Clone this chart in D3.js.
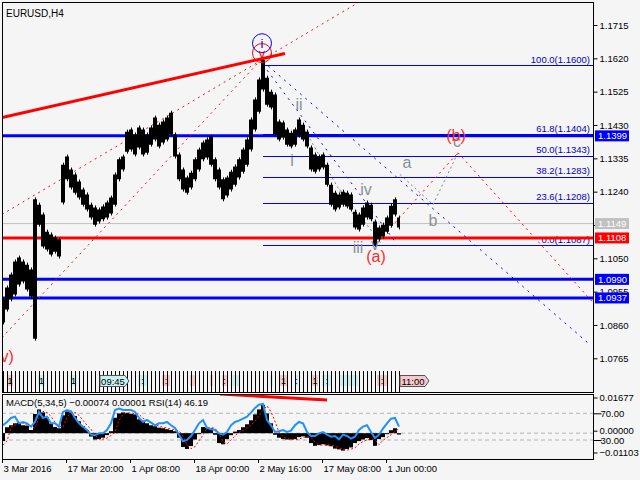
<!DOCTYPE html>
<html>
<head>
<meta charset="utf-8">
<script src="https://cdn.jsdelivr.net/npm/d3@7"></script>
<style>
  body { margin: 0; background: #f5f5f5; }
  text { font-family: "Liberation Sans", Arial, sans-serif; }
</style>
</head>
<body>
<div id="wrapper"></div>
<script>

// 1. Data (one value per 4px bar)

const highs = [
  1.0933, 1.0967, 1.1004, 1.1041, 1.1052, 1.1041, 1.1032, 1.1018, 1.1218, 1.1203,
  1.1175, 1.1126, 1.1118, 1.1109, 1.1104, 1.1317, 1.1340, 1.1303, 1.1289, 1.1269,
  1.1246, 1.1232, 1.1203, 1.1195, 1.1189, 1.1198, 1.1209, 1.1223, 1.1289, 1.1332,
  1.1340, 1.1411, 1.1417, 1.1403, 1.1423, 1.1417, 1.1403, 1.1423, 1.1451, 1.1431,
  1.1440, 1.1451, 1.1465, 1.1403, 1.1346, 1.1303, 1.1280, 1.1294, 1.1332, 1.1360,
  1.1380, 1.1389, 1.1397, 1.1332, 1.1303, 1.1275, 1.1280, 1.1297, 1.1312, 1.1332,
  1.1360, 1.1389, 1.1446, 1.1503, 1.1560, 1.1616, 1.1565, 1.1525, 1.1517, 1.1440,
  1.1437, 1.1417, 1.1408, 1.1417, 1.1446, 1.1431, 1.1411, 1.1366, 1.1346, 1.1340,
  1.1346, 1.1317, 1.1260, 1.1237, 1.1232, 1.1240, 1.1237, 1.1232, 1.1183, 1.1175,
  1.1195, 1.1209, 1.1203, 1.1155, 1.1138, 1.1146, 1.1166, 1.1200, 1.1218, 1.1166
]
const lows = [
  1.0867, 1.0904, 1.0933, 1.0947, 1.0975, 1.0984, 1.0961, 1.0941, 1.0821, 1.1146,
  1.1084, 1.1075, 1.1061, 1.1069, 1.1055, 1.1209, 1.1275, 1.1252, 1.1237, 1.1223,
  1.1203, 1.1189, 1.1166, 1.1146, 1.1155, 1.1161, 1.1166, 1.1178, 1.1203, 1.1275,
  1.1303, 1.1354, 1.1360, 1.1346, 1.1366, 1.1346, 1.1351, 1.1374, 1.1389, 1.1369,
  1.1380, 1.1389, 1.1403, 1.1340, 1.1275, 1.1246, 1.1237, 1.1252, 1.1275, 1.1303,
  1.1332, 1.1337, 1.1317, 1.1275, 1.1252, 1.1218, 1.1229, 1.1246, 1.1260, 1.1280,
  1.1297, 1.1317, 1.1360, 1.1417, 1.1468, 1.1531, 1.1488, 1.1480, 1.1403, 1.1389,
  1.1394, 1.1374, 1.1369, 1.1374, 1.1400, 1.1389, 1.1369, 1.1303, 1.1297, 1.1303,
  1.1309, 1.1260, 1.1203, 1.1189, 1.1195, 1.1203, 1.1198, 1.1189, 1.1138, 1.1132,
  1.1146, 1.1166, 1.1161, 1.1088, 1.1104, 1.1112, 1.1126, 1.1143, 1.1175, 1.1138
]
const macdValues = [
  -0.0040, 0.0030, 0.0040, 0.0050, 0.0054, 0.0040, 0.0038, 0.0016, 0.0097, 0.0120,
  0.0105, 0.0080, 0.0049, 0.0031, 0.0025, 0.0090, 0.0110, 0.0105, 0.0087, 0.0060,
  0.0035, 0.0016, -0.0017, -0.0032, -0.0030, -0.0023, -0.0010, 0.0010, 0.0078, 0.0100,
  0.0105, 0.0103, 0.0097, 0.0095, 0.0070, 0.0063, 0.0050, 0.0040, 0.0035, 0.0028,
  0.0025, 0.0020, 0.0016, 0.0010, -0.0023, -0.0070, -0.0080, -0.0065, -0.0032, -0.0005,
  0.0031, 0.0028, 0.0025, -0.0008, -0.0050, -0.0056, -0.0030, -0.0010, 0.0008, 0.0016,
  0.0030, 0.0045, 0.0065, 0.0095, 0.0120, 0.0143, 0.0100, 0.0050, -0.0008, -0.0023,
  -0.0030, -0.0032, -0.0032, -0.0030, -0.0020, -0.0016, -0.0023, -0.0050, -0.0064, -0.0060,
  -0.0056, -0.0062, -0.0066, -0.0078, -0.0082, -0.0088, -0.0080, -0.0072, -0.0050, -0.0040,
  -0.0032, -0.0025, -0.0035, -0.0064, -0.0030, -0.0020, -0.0005, 0.0015, 0.0025, -0.0007
]
const signalValues = [
  -0.0060, -0.0040, 0.0030, 0.0040, 0.0050, 0.0052, 0.0040, 0.0035, 0.0025, 0.0080,
  0.0110, 0.0105, 0.0085, 0.0055, 0.0035, 0.0030, 0.0080, 0.0105, 0.0105, 0.0090,
  0.0065, 0.0040, 0.0020, -0.0010, -0.0030, -0.0030, -0.0025, -0.0012, 0.0005, 0.0065,
  0.0095, 0.0102, 0.0102, 0.0098, 0.0095, 0.0075, 0.0065, 0.0052, 0.0042, 0.0036,
  0.0030, 0.0026, 0.0021, 0.0017, 0.0012, -0.0015, -0.0060, -0.0078, -0.0068, -0.0038,
  -0.0010, 0.0025, 0.0028, 0.0025, -0.0002, -0.0042, -0.0055, -0.0035, -0.0014, 0.0004,
  0.0014, 0.0027, 0.0042, 0.0060, 0.0088, 0.0115, 0.0138, 0.0108, 0.0060, 0.0005,
  -0.0018, -0.0028, -0.0031, -0.0032, -0.0030, -0.0022, -0.0017, -0.0021, -0.0045, -0.0060,
  -0.0060, -0.0057, -0.0061, -0.0065, -0.0075, -0.0080, -0.0086, -0.0081, -0.0074, -0.0054,
  -0.0042, -0.0034, -0.0027, -0.0033, -0.0058, -0.0036, -0.0022, -0.0008, 0.0010, 0.0022
]
const rsiValues = [
  52, 57, 63, 65, 55, 57, 55, 50, 57, 72,
  63, 65, 55, 55, 50, 72, 75, 73, 63, 55,
  50, 45, 38, 37, 40, 40, 45, 55, 75, 77,
  75, 75, 75, 72, 63, 57, 60, 56, 52, 55,
  55, 57, 52, 48, 38, 28, 30, 36, 45, 55,
  60, 48, 46, 45, 40, 38, 42, 52, 57, 59,
  62, 65, 71, 78, 83, 84, 60, 52, 42, 43,
  45, 42, 44, 52, 57, 55, 42, 36, 36, 40,
  42, 38, 35, 36, 31, 38, 36, 32, 35, 45,
  50, 52, 42, 33, 38, 47, 55, 62, 63, 50
]

const priceTicks = [1.1715, 1.1620, 1.1525, 1.1430, 1.1335, 1.1240, 1.1145, 1.1050, 1.0955, 1.0860, 1.0765]
const hiddenTickLabels = [1.1145]
const timeTickIndex = [0, 16, 32, 48, 64, 80, 96]
const timeTickLabels = ["3 Mar 2016", "17 Mar 20:00", "1 Apr 08:00", "18 Apr 00:00", "2 May 16:00", "17 May 08:00", "1 Jun 00:00"]

const fibLevels = [100.0, 61.8, 50.0, 38.2, 23.6, 0.0]
const fibPrices = [1.1600, 1.1404, 1.1343, 1.1283, 1.1208, 1.1087]
const fibStartIndex = 65

const blueLevels = [1.1399, 1.0990, 1.0937]
const redLevels = [1.1108]
const lastPrice = 1.1149

// trend lines as [index0, price0, index1, price1]
const redSolidLines = [[-0.25, 1.1451, 70.5, 1.1634]]
const darkRedDotted = [[-0.25, 1.1175, 89.25, 1.1782], [-0.25, 1.0824, 65, 1.1622]]
const redDotted = [[93, 1.1088, 113.75, 1.1351], [113.75, 1.1351, 147.5, 1.0924]]
const blueDotted = [[65, 1.1611, 146.75, 1.0804], [65, 1.1602, 98, 1.1098]]
const greyDotted = [
  [74.25, 1.1440, 88, 1.1166], [84.25, 1.1246, 94.75, 1.1089],
  [99.25, 1.1289, 107.5, 1.1203], [107.5, 1.1203, 113.75, 1.1351]
]

// wave labels: [text, index, price]
const greyWaves = [["ii", 74, 1.1488], ["i", 72.25, 1.1329], ["iv", 90.75, 1.1246], ["iii", 88.75, 1.1081],
  ["v", 93, 1.1089], ["a", 101, 1.1323], ["b", 107.5, 1.1158], ["c", 113.5, 1.1384]]
const redWaves = [["(a)", 93.25, 1.1055], ["(b)", 113.25, 1.1400], ["(v)", 0.4, 1.0770]]
const circledWaves = [["i", 64.75, 1.1663, "#0000ff"], ["v", 64.75, 1.1635, "#ff0000"]]

// indicator pane
const macdAxis = [0.01677, 0.00000, -0.01103]
const rsiAxis = [70, 30]
const macdDivergence = [[54.25, 0.0198, 81, 0.0168]]

// session strip: [startIndex, endIndex, kind, text]
const stripBoxes = [
  [1, 2.5, "p", "1"], [8.75, 10.5, "c", "1"], [16.75, 18.5, "c", "1"], [33.75, 36, "c", ":"],
  [39.75, 41.75, "p", ":"], [46.75, 48, "p", ""], [51.75, 52.5, "p", ""], [54.75, 56, "p", ":"],
  [57.25, 59.25, "c", ""], [66.75, 67.5, "c", ""], [69.25, 71, "p", "1"], [73, 73.75, "c", ":"],
  [77.25, 78.75, "p", "1"], [79.75, 82.25, "c", ":"], [84.25, 88.75, "c", ""], [93.5, 96, "p", ":"]
]
const stripFlags = [[24.25, "c", "09:45"], [99.25, "p", "11:00"]]

function drawChart() {

  // 2. Dimensions

  const dims = {
    width: 640, height: 480,
    left: 2, right: 593,
    mainTop: 2, mainBottom: 392,
    subTop: 394, subBottom: 459,
  }
  const fontSize = 9.5

  // 3. Canvas

  const svg = d3.select("#wrapper").append("svg")
      .attr("width", dims.width)
      .attr("height", dims.height)
      .style("background", "#f5f5f5")

  const defs = svg.append("defs")
  defs.append("clipPath").attr("id", "main-clip")
    .append("rect")
      .attr("x", dims.left).attr("y", dims.mainTop)
      .attr("width", dims.right - dims.left).attr("height", dims.mainBottom - dims.mainTop)
  defs.append("clipPath").attr("id", "sub-clip")
    .append("rect")
      .attr("x", dims.left).attr("y", dims.subTop)
      .attr("width", dims.right - dims.left).attr("height", dims.subBottom - dims.subTop)

  // 4. Scales

  const xScale = d3.scaleLinear().domain([0, 147.5]).range([3, 593])
  const yScale = d3.scaleLinear().domain([1.0765, 1.1715]).range([358.3, 25])
  const macdScale = d3.scaleLinear().domain([-0.01103, 0.01677]).range([455, 400])
  const rsiScale = d3.scaleLinear().domain([30, 70]).range([440, 413.3])

  const main = svg.append("g").attr("clip-path", "url(#main-clip)")
  const sub = svg.append("g").attr("clip-path", "url(#sub-clip)")

  const drawSegments = (g, lines, color, width, dash, sy = yScale) => {
    g.selectAll(null).data(lines).enter().append("line")
        .attr("x1", d => xScale(d[0])).attr("y1", d => sy(d[1]))
        .attr("x2", d => xScale(d[2])).attr("y2", d => sy(d[3]))
        .attr("stroke", color)
        .attr("stroke-width", width)
        .attr("stroke-dasharray", dash)
  }

  // 5. Horizontal levels

  main.append("line")
      .attr("x1", dims.left).attr("x2", dims.right)
      .attr("y1", yScale(lastPrice)).attr("y2", yScale(lastPrice))
      .attr("stroke", "#c0c0c0")

  main.selectAll(".fib").data(fibPrices).enter().append("line")
      .attr("x1", xScale(fibStartIndex)).attr("x2", dims.right)
      .attr("y1", d => Math.round(yScale(d)) + 0.5).attr("y2", d => Math.round(yScale(d)) + 0.5)
      .attr("stroke", "#0000ff")
      .attr("shape-rendering", "crispEdges")

  main.selectAll(".fib-label").data(fibPrices).enter().append("text")
      .attr("x", 590).attr("y", d => yScale(d) - 2.5)
      .attr("text-anchor", "end")
      .attr("font-size", fontSize)
      .attr("fill", "#0000cc")
      .text((d, i) => `${fibLevels[i].toFixed(1)}(${d.toFixed(4)})`)

  main.selectAll(".blue-level").data(blueLevels).enter().append("line")
      .attr("x1", dims.left).attr("x2", dims.right)
      .attr("y1", d => yScale(d)).attr("y2", d => yScale(d))
      .attr("stroke", "#0000ff").attr("stroke-width", 3)

  main.selectAll(".red-level").data(redLevels).enter().append("line")
      .attr("x1", dims.left).attr("x2", dims.right)
      .attr("y1", d => yScale(d)).attr("y2", d => yScale(d))
      .attr("stroke", "#ff0000").attr("stroke-width", 3)

  // 6. Trend lines

  drawSegments(main, darkRedDotted, "#c02828", 1, "2,4")
  drawSegments(main, blueDotted, "#0000ff", 1, "2,5")
  drawSegments(main, greyDotted, "#808080", 1, "2,3")
  drawSegments(main, redDotted, "#ff0000", 1, "2,4")

  // 7. Price bars

  const band = d3.area()
      .curve(d3.curveStep)
      .x((d, i) => xScale(i))
      .y0((d, i) => yScale(lows[i]))
      .y1(d => yScale(d))
  main.append("path")
      .attr("d", band(highs))
      .attr("fill", "#000")

  main.selectAll(".bar").data(highs).enter().append("line")
      .attr("x1", (d, i) => xScale(i) + 0.5).attr("x2", (d, i) => xScale(i) + 0.5)
      .attr("y1", d => yScale(d) - 2).attr("y2", (d, i) => yScale(lows[i]) + 2)
      .attr("stroke", "#000").attr("stroke-width", 1)

  drawSegments(main, redSolidLines, "#ff0000", 3, null)

  // 8. Wave labels

  main.selectAll(".grey-wave").data(greyWaves).enter().append("text")
      .attr("x", d => xScale(d[1])).attr("y", d => yScale(d[2]))
      .attr("text-anchor", "middle").attr("dominant-baseline", "central")
      .attr("font-size", 16).attr("fill", "#8a9098")
      .text(d => d[0])

  main.selectAll(".red-wave").data(redWaves).enter().append("text")
      .attr("x", d => xScale(d[1])).attr("y", d => yScale(d[2]))
      .attr("text-anchor", "middle").attr("dominant-baseline", "central")
      .attr("font-size", 16).attr("fill", "#ff2a2a")
      .text(d => d[0])

  const circled = main.selectAll(".circled").data(circledWaves).enter().append("g")
  circled.append("circle")
      .attr("cx", d => xScale(d[1])).attr("cy", d => yScale(d[2]))
      .attr("r", 9.5).attr("fill", "none")
      .attr("stroke", d => d[3]).attr("stroke-width", 1)
  circled.append("text")
      .attr("x", d => xScale(d[1])).attr("y", d => yScale(d[2]))
      .attr("text-anchor", "middle").attr("dominant-baseline", "central")
      .attr("font-size", 13).attr("fill", d => d[3])
      .text(d => d[0])

  // 9. Session strip

  const stripColor = { c: "#c8f2f2", p: "#f4c8cc" }
  svg.selectAll(".strip-box").data(stripBoxes).enter().append("rect")
      .attr("x", d => xScale(d[0])).attr("y", 375)
      .attr("width", d => xScale(d[1]) - xScale(d[0])).attr("height", 11)
      .attr("fill", d => stripColor[d[2]])
  svg.selectAll(".strip-tick").data(highs).enter().append("line")
      .attr("x1", (d, i) => xScale(i) + 0.5).attr("x2", (d, i) => xScale(i) + 0.5)
      .attr("y1", 371).attr("y2", dims.mainBottom)
      .attr("stroke", "#000")
      .attr("shape-rendering", "crispEdges")
  svg.selectAll(".strip-text").data(stripBoxes).enter().append("text")
      .attr("x", d => (xScale(d[0]) + xScale(d[1])) / 2).attr("y", 384)
      .attr("text-anchor", "middle").attr("font-size", 9).attr("fill", "#000")
      .text(d => d[3])

  const flags = svg.selectAll(".flag").data(stripFlags).enter().append("g")
  flags.append("path")
      .attr("d", d => {
        const x0 = xScale(d[0])
        return `M${x0},375.5 H${x0 + 25} L${x0 + 29},381 L${x0 + 25},386.5 H${x0} Z`
      })
      .attr("fill", d => stripColor[d[1]])
      .attr("stroke", "#555")
  flags.append("text")
      .attr("x", d => xScale(d[0]) + 13).attr("y", 385)
      .attr("text-anchor", "middle").attr("font-size", 9.5).attr("fill", "#000")
      .text(d => d[2])

  // 10. Indicator pane

  sub.selectAll(".guide").data([70, 30]).enter().append("line")
      .attr("x1", dims.left).attr("x2", dims.right)
      .attr("y1", d => rsiScale(d)).attr("y2", d => rsiScale(d))
      .attr("stroke", "#b4b4b4").attr("stroke-dasharray", "4,3")
  sub.append("line")
      .attr("x1", dims.left).attr("x2", dims.right)
      .attr("y1", macdScale(0)).attr("y2", macdScale(0))
      .attr("stroke", "#b4b4b4").attr("stroke-dasharray", "4,3")

  sub.selectAll(".hist").data(macdValues).enter().append("rect")
      .attr("x", (d, i) => xScale(i) - 2)
      .attr("width", 4)
      .attr("y", d => Math.min(macdScale(d), macdScale(0)))
      .attr("height", d => Math.abs(macdScale(d) - macdScale(0)))
      .attr("fill", "#000")

  sub.append("path")
      .attr("d", d3.line().x((d, i) => xScale(i)).y(d => macdScale(d))(signalValues))
      .attr("fill", "none").attr("stroke", "#ff0000")
      .attr("stroke-width", 1).attr("stroke-dasharray", "2,2")

  sub.append("path")
      .attr("d", d3.line().x((d, i) => xScale(i)).y(d => rsiScale(d))(rsiValues))
      .attr("fill", "none").attr("stroke", "#1e90ff")
      .attr("stroke-width", 2)

  drawSegments(sub, macdDivergence, "#ff0000", 3, null, macdScale)

  svg.append("text")
      .attr("x", 6).attr("y", 406)
      .attr("font-size", fontSize).attr("fill", "#000")
      .text(`MACD(5,34,5) ${d3.format(".5f")(-0.00074)} ${d3.format(".5f")(0.00001)} RSI(14) ${d3.format(".2f")(46.19)}`)

  // 11. Frames and axes

  svg.append("rect")
      .attr("x", dims.left + 0.5).attr("y", dims.mainTop + 0.5)
      .attr("width", dims.right - dims.left).attr("height", dims.mainBottom - dims.mainTop)
      .attr("fill", "none").attr("stroke", "#000")
  svg.append("rect")
      .attr("x", dims.left + 0.5).attr("y", dims.subTop + 0.5)
      .attr("width", dims.right - dims.left).attr("height", dims.subBottom - dims.subTop)
      .attr("fill", "none").attr("stroke", "#000")

  const priceAxis = d3.axisRight(yScale)
      .tickValues(priceTicks)
      .tickFormat(d => hiddenTickLabels.includes(d) ? "" : d3.format(".4f")(d))
      .tickSize(4).tickPadding(2)
  svg.append("g")
      .attr("transform", `translate(${dims.right + 0.5},0)`)
      .call(priceAxis)
      .call(g => g.select(".domain").remove())
      .call(g => g.selectAll("text").attr("font-size", fontSize).attr("font-family", null).attr("fill", "#000"))
      .call(g => g.selectAll("line").attr("stroke", "#000"))

  const macdAxisG = svg.append("g")
      .attr("transform", `translate(${dims.right + 0.5},0)`)
      .call(d3.axisRight(macdScale).tickValues(macdAxis).tickFormat(d3.format(".5f")).tickSize(4).tickPadding(2))
  const rsiAxisG = svg.append("g")
      .attr("transform", `translate(${dims.right + 0.5},0)`)
      .call(d3.axisRight(rsiScale).tickValues(rsiAxis).tickFormat(d3.format(".2f")).tickSize(8).tickPadding(-1))
  ;[macdAxisG, rsiAxisG].forEach(g => {
    g.select(".domain").remove()
    g.selectAll("text").attr("font-size", fontSize).attr("font-family", null).attr("fill", "#000")
    g.selectAll("line").attr("stroke", "#000")
  })
  macdAxisG.selectAll(".tick").attr("transform", d => `translate(0,${macdScale(d) - 2})`)

  // price tags on the right axis
  const tags = [
    ...blueLevels.map(v => [v, "#0000ff"]),
    [lastPrice, "#c0c0c0"],
    ...redLevels.map(v => [v, "#ff0000"]),
  ]
  const tag = svg.selectAll(".tag").data(tags).enter().append("g")
      .attr("transform", d => `translate(${dims.right + 2},${yScale(d[0])})`)
  tag.append("rect")
      .attr("x", 0).attr("y", -5.5).attr("width", 34).attr("height", 11)
      .attr("fill", d => d[1])
  tag.append("text")
      .attr("x", 3).attr("y", 0).attr("dy", "0.34em")
      .attr("font-size", fontSize).attr("fill", "#fff")
      .text(d => d3.format(".4f")(d[0]))

  // time axis
  const timeG = svg.selectAll(".time-tick").data(timeTickIndex).enter().append("g")
      .attr("transform", d => `translate(${Math.round(xScale(d)) - 0.5},${dims.subBottom})`)
  timeG.append("line").attr("y1", 0).attr("y2", 4).attr("stroke", "#000")
  timeG.append("text")
      .attr("x", 1).attr("y", 13)
      .attr("font-size", fontSize).attr("fill", "#000")
      .text((d, i) => timeTickLabels[i])

  svg.append("text")
      .attr("x", 6).attr("y", 17)
      .attr("font-size", 10).attr("fill", "#000")
      .text("EURUSD,H4")
}
drawChart()
</script>
</body>
</html>
